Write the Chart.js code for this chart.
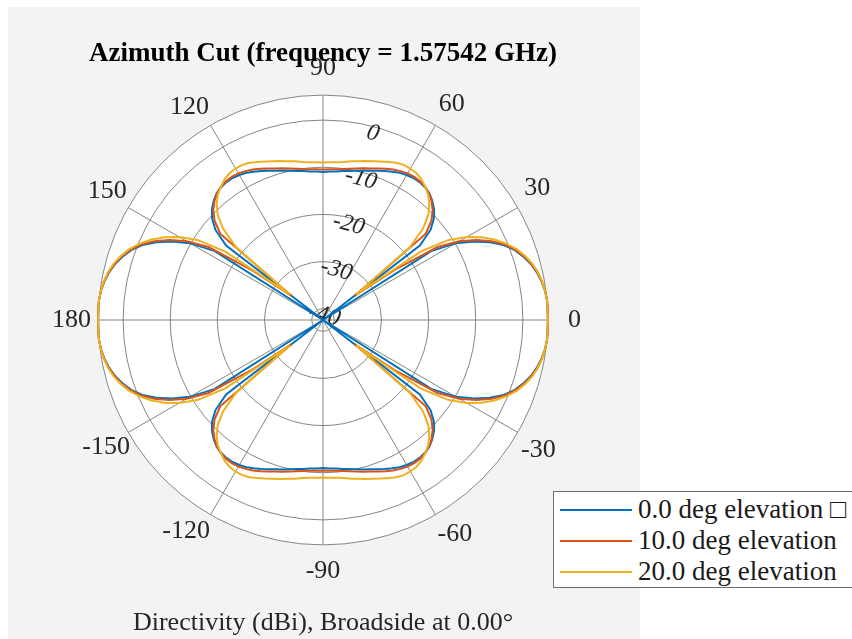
<!DOCTYPE html>
<html>
<head>
<meta charset="utf-8">
<script src="https://cdn.jsdelivr.net/npm/chart.js@4.4.1/dist/chart.umd.min.js"></script>
<style>
  html, body { margin: 0; padding: 0; background: #fff; overflow: hidden; }
  #wrap { position: relative; width: 852px; height: 639px; }
  #legend {
    position: absolute; left: 553px; top: 491px; width: 299px; height: 97px;
    box-sizing: border-box; border: 1px solid #6e6e6e; border-right: none;
    background: #fff; padding-top: 2px;
    font: 27px 'Liberation Serif', 'Times New Roman', serif; color: #1a1a1a;
  }
  .row { display: flex; align-items: center; height: 31px; white-space: nowrap; }
  .swatch { width: 72px; height: 0; border-top: 2px solid; margin: 0 6px 0 6px; }
</style>
</head>
<body>
<div id="wrap">
  <canvas id="c" width="852" height="639"></canvas>
  <div id="legend"></div>
</div>
<script>
// radial axis (dBi)
const rMin = -42.4, rMax = 5.3;
const ringValues = [rMin, -40, -30, -20, -10, 0, rMax];
const ringLabels = [-40, -30, -20, -10, 0];
const angleTicks = [0, 30, 60, 90, 120, 150, 180, -150, -120, -90, -60, -30];

// azimuth 0 .. 357.5 deg, counter-clockwise from the right
const stepDeg = 2.5;
const azimuth = [];
for (let a = 0; a < 360; a += stepDeg) azimuth.push(a);

const elev0 = [
  5.3, 5.3, 5.3, 5.1, 4.7, 4.1, 3.3, 2.2, 0.9, -0.9, -3.4, -6.3, -9.8, -15.2, -42.4, -16.5, -12.6, -10.5, -9.1, -8.1, -7.3, -6.9, -6.7, -6.7, -6.9, -7.2, -7.7, -8.2, -8.7, -9.2, -9.6, -10.0, -10.3, -10.5, -10.8, -10.9, -11.0,
  -10.9, -10.8, -10.5, -10.3, -10.0, -9.6, -9.2, -8.7, -8.2, -7.7, -7.2, -6.9, -6.7, -6.7, -6.9, -7.3, -8.1, -9.1, -10.5, -12.6, -16.5, -42.4, -15.2, -9.8, -6.3, -3.4, -0.9, 0.9, 2.2, 3.3, 4.1, 4.7, 5.1, 5.3, 5.3, 5.3,
  5.3, 5.3, 5.1, 4.7, 4.1, 3.3, 2.2, 0.9, -0.9, -3.4, -6.3, -9.8, -15.2, -42.4, -16.5, -12.6, -10.5, -9.1, -8.1, -7.3, -6.9, -6.7, -6.7, -6.9, -7.2, -7.7, -8.2, -8.7, -9.2, -9.6, -10.0, -10.3, -10.5, -10.8, -10.9, -11.0,
  -10.9, -10.8, -10.5, -10.3, -10.0, -9.6, -9.2, -8.7, -8.2, -7.7, -7.2, -6.9, -6.7, -6.7, -6.9, -7.3, -8.1, -9.1, -10.5, -12.6, -16.5, -42.4, -15.2, -9.8, -6.3, -3.4, -0.9, 0.9, 2.2, 3.3, 4.1, 4.7, 5.1, 5.3, 5.3
];
const elev10 = [
  5.3, 5.3, 5.3, 5.1, 4.7, 4.2, 3.4, 2.4, 1.1, -0.6, -2.9, -5.7, -9.0, -13.6, -24.0, -34.0, -14.0, -11.2, -9.5, -8.3, -7.4, -6.8, -6.5, -6.4, -6.5, -6.8, -7.2, -7.7, -8.2, -8.7, -9.1, -9.5, -9.8, -10.1, -10.3, -10.4, -10.5,
  -10.4, -10.3, -10.1, -9.8, -9.5, -9.1, -8.7, -8.2, -7.7, -7.2, -6.8, -6.5, -6.4, -6.5, -6.8, -7.4, -8.3, -9.5, -11.2, -14.0, -34.0, -24.0, -13.6, -9.0, -5.7, -2.9, -0.6, 1.1, 2.4, 3.4, 4.2, 4.7, 5.1, 5.3, 5.3, 5.3,
  5.3, 5.3, 5.1, 4.7, 4.2, 3.4, 2.4, 1.1, -0.6, -2.9, -5.7, -9.0, -13.6, -24.0, -34.0, -14.0, -11.2, -9.5, -8.3, -7.4, -6.8, -6.5, -6.4, -6.5, -6.8, -7.2, -7.7, -8.2, -8.7, -9.1, -9.5, -9.8, -10.1, -10.3, -10.4, -10.5,
  -10.4, -10.3, -10.1, -9.8, -9.5, -9.1, -8.7, -8.2, -7.7, -7.2, -6.8, -6.5, -6.4, -6.5, -6.8, -7.4, -8.3, -9.5, -11.2, -14.0, -34.0, -24.0, -13.6, -9.0, -5.7, -2.9, -0.6, 1.1, 2.4, 3.4, 4.2, 4.7, 5.1, 5.3, 5.3
];
const elev20 = [
  5.3, 5.3, 5.3, 5.1, 4.8, 4.3, 3.6, 2.6, 1.4, -0.2, -2.1, -4.4, -7.2, -10.8, -17.0, -33.5, -18.3, -13.6, -10.8, -9.0, -7.7, -6.8, -6.0, -5.5, -5.3, -5.3, -5.6, -6.1, -6.6, -7.1, -7.5, -7.9, -8.2, -8.6, -8.8, -8.9, -9.0,
  -8.9, -8.8, -8.6, -8.2, -7.9, -7.5, -7.1, -6.6, -6.1, -5.6, -5.3, -5.3, -5.5, -6.0, -6.8, -7.7, -9.0, -10.8, -13.6, -18.3, -33.5, -17.0, -10.8, -7.2, -4.4, -2.1, -0.2, 1.4, 2.6, 3.6, 4.3, 4.8, 5.1, 5.3, 5.3, 5.3,
  5.3, 5.3, 5.1, 4.8, 4.3, 3.6, 2.6, 1.4, -0.2, -2.1, -4.4, -7.2, -10.8, -17.0, -33.5, -18.3, -13.6, -10.8, -9.0, -7.7, -6.8, -6.0, -5.5, -5.3, -5.3, -5.6, -6.1, -6.6, -7.1, -7.5, -7.9, -8.2, -8.6, -8.8, -8.9, -9.0,
  -8.9, -8.8, -8.6, -8.2, -7.9, -7.5, -7.1, -6.6, -6.1, -5.6, -5.3, -5.3, -5.5, -6.0, -6.8, -7.7, -9.0, -10.8, -13.6, -18.3, -33.5, -17.0, -10.8, -7.2, -4.4, -2.1, -0.2, 1.4, 2.6, 3.6, 4.3, 4.8, 5.1, 5.3, 5.3
];

const seriesNames = ['0.0 deg elevation \u25A1', '10.0 deg elevation', '20.0 deg elevation'];
const seriesColors = ['#0072BD', '#D95319', '#EDB120'];

const serif = "'Liberation Serif', 'Times New Roman', serif";

// radar runs clockwise; start at 75 deg so the dB labels sit on that spoke
const firstAz = 75;
const order = azimuth.map((_, i) => ((firstAz - i * stepDeg) % 360 + 360) % 360);
const labels = order.map(a => {
  const d = a > 180 ? a - 360 : a;
  return angleTicks.includes(d) ? String(d) : '';
});
const pick = arr => order.map(a => arr[Math.round(a / stepDeg)]);

// matlab centres the angle labels on a circle; chart.js puts a box corner on it,
// so pull each label in by half its size along the spoke
const measure = document.createElement('canvas').getContext('2d');
measure.font = '26px ' + serif;
const labelRadius = 251, ringRadius = 224.5, tickExtra = 12, labelLine = 26 * 1.2;
function labelPadding(label, index) {
  const phi = order[index] * Math.PI / 180;
  const w = label ? measure.measureText(label).width : 0;
  return labelRadius - ringRadius - tickExtra
    - (w / 2) * Math.abs(Math.cos(phi)) - (labelLine / 2) * Math.abs(Math.sin(phi));
}

const figureBg = {
  id: 'figureBg',
  beforeDraw(chart) {
    const ctx = chart.ctx, r = chart.scales.r;
    ctx.save();
    ctx.fillStyle = '#f3f3f3';
    ctx.fillRect(8, 7, 632, 632);
    ctx.fillStyle = '#ffffff';
    ctx.beginPath();
    ctx.arc(r.xCenter, r.yCenter, r.drawingArea, 0, Math.PI * 2);
    ctx.fill();
    ctx.restore();
  }
};

const chart = new Chart(document.getElementById('c'), {
  type: 'radar',
  data: {
    labels: labels,
    datasets: [elev0, elev10, elev20].map((s, j) => ({
      label: seriesNames[j],
      data: pick(s),
      borderColor: seriesColors[j],
      backgroundColor: seriesColors[j],
      borderWidth: 2,
      pointRadius: 0,
      fill: false,
      tension: 0,
      order: 3 - j
    }))
  },
  options: {
    responsive: false,
    animation: false,
    devicePixelRatio: 1,
    layout: { padding: { left: 4, right: 210, top: 7, bottom: 0 } },
    plugins: {
      legend: { display: false },
      tooltip: { enabled: false },
      title: {
        display: true,
        text: 'Azimuth Cut (frequency = 1.57542 GHz)',
        color: '#000',
        font: { family: serif, size: 27, weight: 'bold' },
        padding: { top: 31, bottom: -16.4 }
      },
      subtitle: {
        display: true,
        position: 'bottom',
        text: 'Directivity (dBi), Broadside at 0.00\u00B0',
        color: '#262626',
        font: { family: serif, size: 26, weight: 'normal' },
        padding: { top: 19.4, bottom: 0.4 }
      }
    },
    scales: {
      r: {
        min: rMin,
        max: rMax,
        startAngle: 90 - firstAz + 0.000001,
        afterBuildTicks: s => { s.ticks = ringValues.map(v => ({ value: v })); },
        ticks: {
          display: true,
          showLabelBackdrop: false,
          backdropPadding: 0,
          color: '#262626',
          font: { family: serif, size: 24, style: 'italic', lineHeight: 0.28 },
          // empty first line nudges the label just inside its ring
          callback: v => ringLabels.includes(v) ? ['', String(v)] : ''
        },
        grid: { circular: true, color: '#858585', lineWidth: 1 },
        angleLines: {
          display: true,
          color: '#858585',
          lineWidth: ctx => ctx.label === '' ? 0 : 1
        },
        pointLabels: {
          display: true,
          padding: ctx => labelPadding(ctx.label, ctx.index),
          color: '#262626',
          font: { family: serif, size: 26 }
        }
      }
    }
  },
  plugins: [figureBg]
});

// legend box
const legend = document.getElementById('legend');
chart.data.datasets.forEach(ds => {
  const row = document.createElement('div');
  row.className = 'row';
  const sw = document.createElement('span');
  sw.className = 'swatch';
  sw.style.borderTopColor = ds.borderColor;
  const tx = document.createElement('span');
  tx.textContent = ds.label;
  row.appendChild(sw);
  row.appendChild(tx);
  legend.appendChild(row);
});
</script>
</body>
</html>
